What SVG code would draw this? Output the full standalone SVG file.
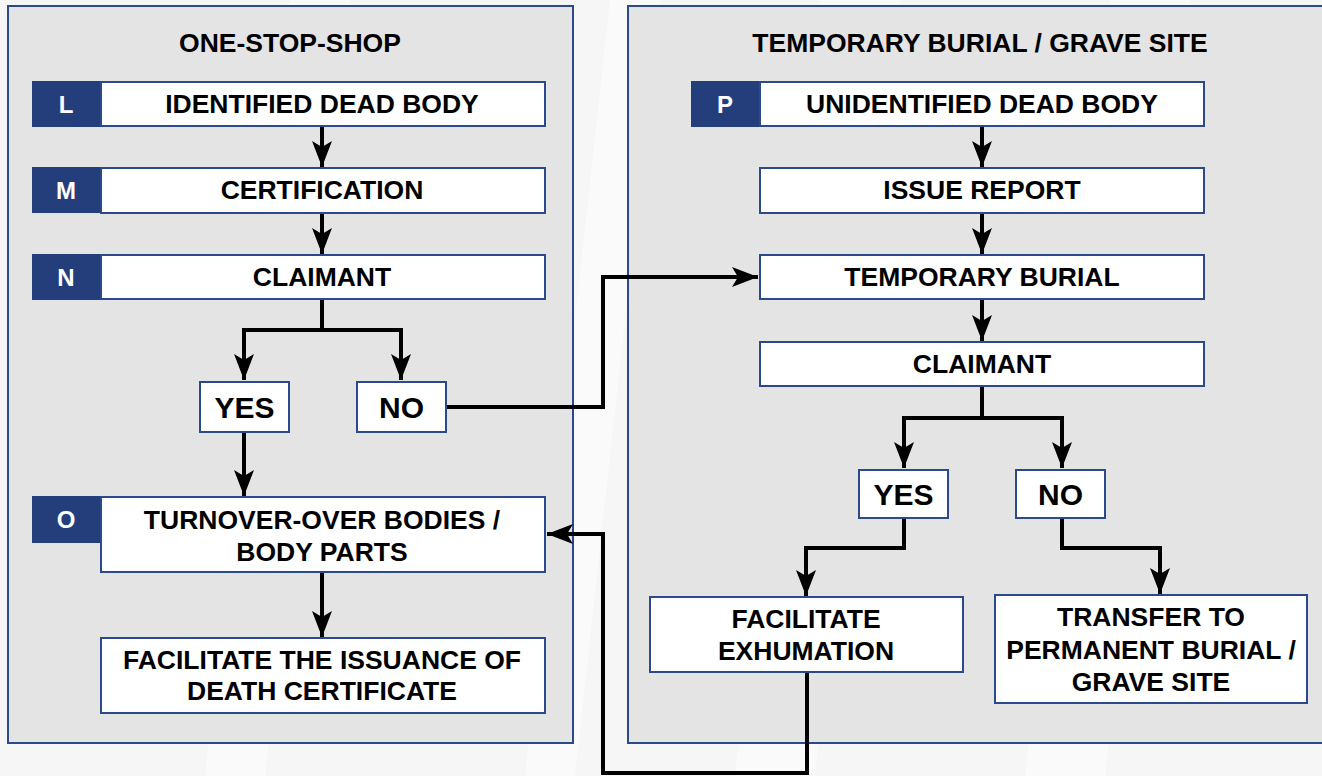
<svg xmlns="http://www.w3.org/2000/svg" width="1322" height="776" viewBox="0 0 1322 776">
  <defs>
    <marker id="arrow" viewBox="0 0 26 20" refX="26" refY="10" markerWidth="26" markerHeight="20" markerUnits="userSpaceOnUse" orient="auto">
      <path d="M0,0 L26,10 L0,20 L6,10 Z" fill="#000"/>
    </marker>
  </defs>
  <style>
    .panel { fill: #e4e4e4; stroke: #2b4a8b; stroke-width: 2; }
    .box { fill: #ffffff; stroke: #2b4a8b; stroke-width: 2; }
    .tag { fill: #233e7a; }
    .t { font-family: "Liberation Sans", Arial, sans-serif; font-weight: bold; font-size: 26.5px; fill: #000; text-anchor: middle; }
    .yn { font-size: 30px; }
    .tagt { font-family: "Liberation Sans", Arial, sans-serif; font-weight: bold; font-size: 24px; fill: #fff; text-anchor: middle; }
    .wire { fill: none; stroke: #000; stroke-width: 4; stroke-linejoin: miter; }
    .wire.a { marker-end: url(#arrow); }
  </style>

  <!-- page background with faint diagonal bands -->
  <rect x="0" y="0" width="1322" height="776" fill="#f6f6f6"/>
  <g fill="#fafafa">
    <polygon points="610,0 660,0 575,776 525,776"/>
    <polygon points="820,0 900,0 815,776 735,776"/>
    <polygon points="1110,0 1190,0 1105,776 1025,776"/>
    <polygon points="290,0 350,0 265,776 205,776"/>
  </g>

  <!-- panels -->
  <g id="panel-one-stop-shop">
    <rect class="panel" x="8" y="6" width="565" height="737"/>
    <text class="t" x="290" y="52">ONE-STOP-SHOP</text>
  </g>
  <g id="panel-temporary-burial">
    <rect class="panel" x="628" y="6" width="720" height="737"/>
    <text class="t" x="980" y="52">TEMPORARY BURIAL / GRAVE SITE</text>
  </g>

  <!-- connectors -->
  <g id="connectors">
    <line class="wire a" x1="322" y1="126" x2="322" y2="167"/>
    <line class="wire a" x1="322" y1="213" x2="322" y2="254"/>
    <polyline class="wire" points="322,299 322,330"/>
    <polyline class="wire a" points="322,330 244,330 244,380"/>
    <polyline class="wire a" points="322,330 401,330 401,380"/>
    <line class="wire a" x1="244" y1="432" x2="244" y2="496"/>
    <line class="wire a" x1="322" y1="572" x2="322" y2="637"/>
    <polyline class="wire a" points="446,407 603,407 603,277 758,277"/>

    <line class="wire a" x1="982" y1="126" x2="982" y2="167"/>
    <line class="wire a" x1="982" y1="213" x2="982" y2="254"/>
    <line class="wire a" x1="982" y1="299" x2="982" y2="341"/>
    <polyline class="wire" points="982,386 982,418"/>
    <polyline class="wire a" points="982,418 904,418 904,468"/>
    <polyline class="wire a" points="982,418 1062,418 1062,468"/>
    <polyline class="wire a" points="904,518 904,548 806,548 806,596"/>
    <polyline class="wire a" points="1062,518 1062,548 1160,548 1160,594"/>
    <polyline class="wire a" points="807,672 807,773 603,773 603,534 547,534"/>
  </g>

  <!-- left column -->
  <g id="node-l">
    <rect class="tag" x="32" y="81" width="68" height="46"/>
    <text class="tagt" x="66" y="112.5">L</text>
    <rect class="box" x="101" y="82" width="444" height="44"/>
    <text class="t" x="322" y="113">IDENTIFIED DEAD BODY</text>
  </g>
  <g id="node-m">
    <rect class="tag" x="32" y="167" width="68" height="46"/>
    <text class="tagt" x="66" y="198.5">M</text>
    <rect class="box" x="101" y="168" width="444" height="45"/>
    <text class="t" x="322" y="199">CERTIFICATION</text>
  </g>
  <g id="node-n">
    <rect class="tag" x="32" y="254" width="68" height="46"/>
    <text class="tagt" x="66" y="285.5">N</text>
    <rect class="box" x="101" y="255" width="444" height="44"/>
    <text class="t" x="322" y="286">CLAIMANT</text>
  </g>
  <g id="node-yes-left">
    <rect class="box" x="200" y="382" width="89" height="50"/>
    <text class="t yn" x="244.5" y="418">YES</text>
  </g>
  <g id="node-no-left">
    <rect class="box" x="357" y="382" width="89" height="50"/>
    <text class="t yn" x="401.5" y="418">NO</text>
  </g>
  <g id="node-o">
    <rect class="tag" x="32" y="496" width="68" height="47"/>
    <text class="tagt" x="66" y="528">O</text>
    <rect class="box" x="101" y="497" width="444" height="75"/>
    <text class="t" x="322" y="529">TURNOVER-OVER BODIES /</text>
    <text class="t" x="322" y="561">BODY PARTS</text>
  </g>
  <g id="node-death-certificate">
    <rect class="box" x="101" y="638" width="444" height="75"/>
    <text class="t" x="322" y="669">FACILITATE THE ISSUANCE OF</text>
    <text class="t" x="322" y="700">DEATH CERTIFICATE</text>
  </g>

  <!-- right column -->
  <g id="node-p">
    <rect class="tag" x="691" y="81" width="68" height="46"/>
    <text class="tagt" x="725" y="112.5">P</text>
    <rect class="box" x="760" y="82" width="444" height="44"/>
    <text class="t" x="982" y="113">UNIDENTIFIED DEAD BODY</text>
  </g>
  <g id="node-issue-report">
    <rect class="box" x="760" y="168" width="444" height="45"/>
    <text class="t" x="982" y="199">ISSUE REPORT</text>
  </g>
  <g id="node-temporary-burial">
    <rect class="box" x="760" y="255" width="444" height="44"/>
    <text class="t" x="982" y="286">TEMPORARY BURIAL</text>
  </g>
  <g id="node-claimant-right">
    <rect class="box" x="760" y="342" width="444" height="44"/>
    <text class="t" x="982" y="373">CLAIMANT</text>
  </g>
  <g id="node-yes-right">
    <rect class="box" x="859" y="470" width="89" height="48"/>
    <text class="t yn" x="903.5" y="505">YES</text>
  </g>
  <g id="node-no-right">
    <rect class="box" x="1016" y="470" width="89" height="48"/>
    <text class="t yn" x="1060.5" y="505">NO</text>
  </g>
  <g id="node-exhumation">
    <rect class="box" x="650" y="597" width="313" height="75"/>
    <text class="t" x="806" y="628">FACILITATE</text>
    <text class="t" x="806" y="660">EXHUMATION</text>
  </g>
  <g id="node-transfer">
    <rect class="box" x="995" y="595" width="312" height="108"/>
    <text class="t" x="1151" y="626">TRANSFER TO</text>
    <text class="t" x="1151" y="659">PERMANENT BURIAL /</text>
    <text class="t" x="1151" y="691">GRAVE SITE</text>
  </g>
</svg>
